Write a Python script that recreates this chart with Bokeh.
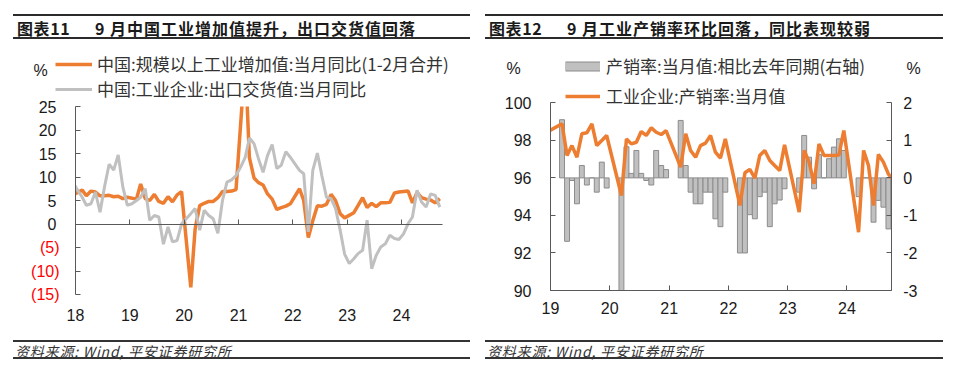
import pandas as pd
from bokeh.plotting import figure
from bokeh.models import (Range1d, LinearAxis, DatetimeAxis, FixedTicker, DatetimeTickFormatter,
                          Legend, LegendItem, Label, Div, ColumnDataSource, BoxAnnotation)
from bokeh.layouts import row, column
from bokeh.embed import file_html
from bokeh.resources import INLINE

# ---------------- data: left chart ----------------
# industrial value added yoy (%), Jan-Feb combined (reported as Feb)
iva_months = ["2017-12"] + [f"{y}-{m:02d}" for y in range(2018, 2025) for m in range(2, 13)
                            if not (y == 2024 and m > 9)]
iva_values = [6.2,
              7.2, 6.0, 7.0, 6.8, 6.0, 6.0, 6.1, 5.8, 5.9, 5.4, 5.7,
              5.3, 8.5, 5.4, 5.0, 6.3, 4.8, 4.4, 5.8, 4.7, 6.2, 6.9,
              -13.5, -1.1, 3.9, 4.4, 4.8, 4.8, 5.6, 6.9, 6.9, 7.0, 7.3,
              35.1, 14.1, 9.8, 8.8, 8.3, 6.4, 5.3, 3.1, 3.5, 3.8, 4.3,
              7.5, 5.0, -2.9, 0.7, 3.9, 3.8, 4.2, 6.3, 5.0, 2.2, 1.3,
              2.4, 3.9, 5.6, 3.5, 4.4, 3.7, 4.5, 4.5, 4.6, 6.6, 6.8,
              7.0, 4.5, 6.7, 5.6, 5.3, 5.1, 4.5, 5.4]
# export delivery value yoy (%)
exp_months = [str(p) for p in pd.period_range("2017-12", "2024-09", freq="M")]
exp_values = [8.9, 7.2, 5.7, 4.0, 4.3, 6.8, 2.5, 7.9, 12.7, 11.5, 14.7, 7.9,
              4.0, 4.3, 5.0, 5.7, 7.5, 0.8, 1.8, 1.5, -4.3, -0.6, -3.8, -3.5,
              0.0, 1.1, 2.2, 3.3, -1.3, 2.9, 1.8, 1.1, -2.0, 5.0, 8.9, 9.4,
              10.3, 12.1, 14.2, 18.3, 17.1, 13.9, 11.0, 14.6, 16.9, 11.8, 12.5, 15.4,
              14.2, 12.8, 11.4, 10.7, -1.7, 11.4, 15.1, 10.3, 5.7, 5.4, 3.3, -1.3,
              -6.4, -8.4, -7.4, -6.3, -5.6, 0.8, -9.5, -6.7, -4.9, -4.2, -2.4, -3.1,
              -3.3, -2.1, 0.1, 1.5, 7.2, 4.7, 3.6, 6.4, 6.1, 3.6]
left_years = [2018, 2019, 2020, 2021, 2022, 2023, 2024]
left_pos_ticks = [0, 5, 10, 15, 20, 25]
left_neg_labels = {-5: "(5)", -10: "(10)", -15: "(15)"}
left_x_span = ("2018-01-01", "2024-10-03")
left_y_span = (-15, 25)

# ---------------- data: right chart ----------------
ps_months = (["2018-11"]
             + [f"{y}-{m:02d}" for y in range(2019, 2024) for m in range(2, 12)]
             + [f"2024-{m:02d}" for m in range(2, 10)])
ps_rate = [98.45,
           98.88, 97.19, 97.72, 97.10, 98.35, 98.40, 98.88, 97.72, 97.99, 98.26,
           95.06, 98.08, 97.81, 97.90, 98.47, 98.26, 98.67, 98.43, 98.31, 98.52,
           96.57, 98.35, 97.46, 97.10, 97.72, 97.85, 98.26, 97.37, 97.05, 98.08,
           94.53, 96.27, 96.45, 95.98, 97.19, 97.46, 96.93, 96.66, 96.39, 97.76,
           94.17, 97.46, 96.84, 95.68, 97.81, 97.19, 97.19, 97.19, 97.22, 98.52,
           93.11, 97.46, 96.66, 94.53, 97.25, 96.84, 96.20, 95.90]
ps_yoy = [0.0,
          1.55, -1.69, -0.07, -0.69, 0.33, -0.19, 0.0, -0.38, 0.42, -0.27,
          -3.5, 0.83, 0.12, 0.73, 0.12, -0.07, -0.19, 0.73, 0.33, 0.22,
          1.53, 0.33, -0.38, -0.69, -0.69, -0.38, -0.38, -1.09, -1.30, -0.38,
          -2.0, -2.0, -0.98, -1.09, -0.5, -0.38, -1.3, -0.69, -0.59, -0.29,
          -0.38, 1.13, 0.55, -0.29, 0.62, 0.0, 0.51, 0.82, 1.04, 0.73,
          -0.5, 0.0, 0.0, -1.18, -0.6, -0.78, -1.36, -1.0]
right_years = [2019, 2020, 2021, 2022, 2023, 2024]
right_left_ticks = [90, 92, 94, 96, 98, 100]
right_right_ticks = [-3, -2, -1, 0, 1, 2]
right_x_span = ("2019-01-01", "2024-09-30")

ORANGE = "#ed7d31"
GRAY = "#c0c0c0"
BAR_EDGE = "#8c8c8c"
AXIS = "#595959"
TXT = "#1a1a1a"
NUMFONT = "Liberation Sans"
CJK = "Noto Sans CJK SC"


def ms(s):
    return pd.Timestamp(s).value / 1e6


def mid_month(months):
    return pd.PeriodIndex(months, freq="M").to_timestamp() + pd.Timedelta(days=14)


def after_month(months):
    return (pd.PeriodIndex(months, freq="M") + 1).to_timestamp() + pd.Timedelta(days=12)


def year_ticks(years):
    return [ms(f"{y}-01-01") for y in years]


def yy_formatter():
    f = "%y"
    return DatetimeTickFormatter(microseconds=f, milliseconds=f, seconds=f, minsec=f, minutes=f,
                                 hourmin=f, hours=f, days=f, months=f, years=f)


def style_axis(ax, line=True, ticks=True):
    ax.major_label_text_font = NUMFONT
    ax.major_label_text_font_size = "16px"
    ax.major_label_text_color = TXT
    ax.axis_line_color = AXIS if line else None
    ax.major_tick_line_color = AXIS if ticks else None
    ax.minor_tick_line_color = AXIS if ticks else None
    ax.major_tick_in = 5
    ax.major_tick_out = 0
    ax.minor_tick_in = 5
    ax.minor_tick_out = 0


class Frame:
    """maps the plot area (pixels inside a figure) to extended data ranges"""

    def __init__(self, W, H, px_l, px_r, px_t, px_b, x0, x1, y0, y1):
        self.W, self.H = W, H
        self.kx = (px_r - px_l) / (x1 - x0)
        self.ky = (px_b - px_t) / (y1 - y0)
        self.xs = x0 - px_l / self.kx
        self.xe = x1 + (W - px_r) / self.kx
        self.ye = y1 + px_t / self.ky
        self.ys = y0 - (H - px_b) / self.ky

    def yrange_for(self, y0, y1, px_t, px_b):
        k = (px_b - px_t) / (y1 - y0)
        return Range1d(y0 - (self.H - px_b) / k, y1 + px_t / k)

    def x(self, px):
        return self.xs + px / self.kx

    def y(self, py):
        return self.ye - py / self.ky


def mask(p, **kw):
    b = BoxAnnotation(fill_color="white", fill_alpha=1, line_alpha=0, level="glyph", **kw)
    p.renderers.append(b)


def new_fig(fr):
    p = figure(width=fr.W, height=fr.H, output_backend="svg", toolbar_location=None,
               x_axis_type=None, y_axis_type=None,
               x_range=Range1d(fr.xs, fr.xe), y_range=Range1d(fr.ys, fr.ye),
               min_border_left=0, min_border_right=0, min_border_top=0, min_border_bottom=0)
    p.outline_line_color = None
    p.background_fill_color = "white"
    return p


def legend(items, loc, glyph_w, standoff, spacing):
    return Legend(items=items, location=loc, orientation="vertical", glyph_width=glyph_w,
                  glyph_height=22, label_height=22, label_standoff=standoff, spacing=spacing,
                  padding=0, margin=0, border_line_color=None, background_fill_alpha=0,
                  label_text_font=CJK, label_text_font_size="17px", label_text_color="#333333")


# ---------------- left figure ----------------
LX0, LX1 = ms(left_x_span[0]), ms(left_x_span[1])
frL = Frame(480, 280, 75, 442, 56, 244, LX0, LX1, left_y_span[0], left_y_span[1])
pL = new_fig(frL)

src_iva = ColumnDataSource(dict(x=mid_month(iva_months), y=iva_values))
src_exp = ColumnDataSource(dict(x=mid_month(exp_months), y=exp_values))
r_iva = pL.line("x", "y", source=src_iva, line_color=ORANGE, line_width=3.5)
r_exp = pL.line("x", "y", source=src_exp, line_color=GRAY, line_width=3)
# keep lines inside the plot area
mask(pL, bottom=left_y_span[1], left=LX0)
mask(pL, right=LX0)
mask(pL, left=LX1)

yA = LinearAxis(ticker=FixedTicker(ticks=left_pos_ticks, minor_ticks=list(left_neg_labels.keys())),
                fixed_location=LX0, bounds=left_y_span)
style_axis(yA)
yA.major_label_standoff = 19
pL.add_layout(yA, "left")
yB = LinearAxis(ticker=FixedTicker(ticks=list(left_neg_labels.keys())),
                major_label_overrides=left_neg_labels, fixed_location=LX0)
style_axis(yB, line=False, ticks=False)
yB.major_label_text_color = "#ff0000"
yB.major_label_standoff = 16
pL.add_layout(yB, "left")

x0 = DatetimeAxis(ticker=FixedTicker(ticks=[], minor_ticks=year_ticks(left_years)),
                  fixed_location=0, bounds=(LX0, LX1), formatter=yy_formatter())
style_axis(x0)
pL.add_layout(x0, "below")
xlab = DatetimeAxis(ticker=FixedTicker(ticks=year_ticks(left_years)), formatter=yy_formatter(),
                    fixed_location=left_y_span[0])
style_axis(xlab, line=False, ticks=False)
xlab.major_label_standoff = 14
pL.add_layout(xlab, "below")

legL = legend([LegendItem(label="中国:规模以上工业增加值:当月同比(1-2月合并)", renderers=[r_iva]),
               LegendItem(label="中国:工业企业:出口交货值:当月同比", renderers=[r_exp])],
              (55, 229), 37, 5, 0)
pL.add_layout(legL)
pL.add_layout(Label(x=frL.x(40), y=frL.y(20), text="%", text_align="center", text_baseline="middle",
                    text_font=NUMFONT, text_font_size="16px", text_color=TXT))

# ---------------- right figure ----------------
RX0, RX1 = ms(right_x_span[0]), ms(right_x_span[1])
frR = Frame(472, 280, 70, 410.7, 52.3, 240, RX0, RX1, right_left_ticks[0], right_left_ticks[-1])
pR = new_fig(frR)
pR.extra_y_ranges = {"yoy": frR.yrange_for(right_right_ticks[0], right_right_ticks[-1], 52.3, 240)}

ps_x = after_month(ps_months)
src_ps = ColumnDataSource(dict(x=ps_x, rate=ps_rate, yoy=ps_yoy))
month_ms = 30.4 * 24 * 3600 * 1000
pR.vbar(x="x", top="yoy", bottom=0, width=month_ms, source=src_ps, y_range_name="yoy",
        fill_color=GRAY, line_color=BAR_EDGE, line_width=1)
r_rate = pR.line("x", "rate", source=src_ps, line_color=ORANGE, line_width=3.5)
# legend swatch for the bars (a single point draws nothing in the plot)
sw_src = ColumnDataSource(dict(x=ps_x[:1], y=ps_rate[:1]))
sw_dark = pR.line("x", "y", source=sw_src, line_color=BAR_EDGE, line_width=10, line_cap="butt")
sw_light = pR.line("x", "y", source=sw_src, line_color=GRAY, line_width=8, line_cap="butt")
mask(pR, right=RX0)
mask(pR, left=RX1)
mask(pR, top=right_left_ticks[0])

yR1 = LinearAxis(ticker=FixedTicker(ticks=right_left_ticks), fixed_location=RX0,
                 bounds=(right_left_ticks[0], right_left_ticks[-1]))
style_axis(yR1)
yR1.major_label_standoff = 19
pR.add_layout(yR1, "left")

yR2 = LinearAxis(y_range_name="yoy", ticker=FixedTicker(ticks=right_right_ticks), fixed_location=RX1,
                 bounds=(right_right_ticks[0], right_right_ticks[-1]),
                 major_label_overrides={v: str(v) for v in right_right_ticks})
style_axis(yR2)
yR2.major_label_standoff = 12
pR.add_layout(yR2, "right")

xR = DatetimeAxis(ticker=FixedTicker(ticks=year_ticks(right_years)), formatter=yy_formatter(),
                  fixed_location=right_left_ticks[0], bounds=(RX0, RX1))
style_axis(xR)
xR.major_label_standoff = 11
pR.add_layout(xR, "below")

legR = legend([LegendItem(label="产销率:当月值:相比去年同期(右轴)", renderers=[sw_dark, sw_light]),
               LegendItem(label="工业企业:产销率:当月值", renderers=[r_rate])],
              (85, 222), 35, 6, 5)
pR.add_layout(legR)
for px in (33, 433):
    pR.add_layout(Label(x=frR.x(px), y=frR.y(18), text="%", text_align="center", text_baseline="middle",
                        text_font=NUMFONT, text_font_size="16px", text_color=TXT))


# ---------------- title and source blocks ----------------
def title_div(num, text, left, rule_w, width):
    html = (f'<div style="margin:14px 0 0 {left}px; width:{rule_w}px; height:25px; line-height:25px;'
            f'border-top:2px solid #2b2b2b; border-bottom:2px solid #2b2b2b; white-space:nowrap;'
            f"font-family:'{CJK}'; font-weight:bold; font-size:16px; letter-spacing:1px; color:#1a1a1a;\">"
            f'<span style="display:inline-block; width:82px; padding-left:4px; letter-spacing:0.6px; box-sizing:border-box">{num}</span>'
            f'{text}</div>')
    return Div(text=html, width=width, height=50, margin=(0, 0, 0, 0))


def source_div(left, rule_w, width):
    html = (f'<div style="margin:10px 0 0 {left}px; width:{rule_w}px; height:19px; line-height:19px;'
            f'border-top:2px solid #333333; border-bottom:2px solid #333333; white-space:nowrap;'
            f"font-family:'{CJK}'; font-style:italic; font-size:14px; letter-spacing:0.8px; color:#333333;\">"
            f'<span style="padding-left:2px">资料来源: Wind, 平安证券研究所</span></div>')
    return Div(text=html, width=width, height=57, margin=(0, 0, 0, 0))


tL = title_div("图表11", "9 月中国工业增加值提升，出口交货值回落", 13, 457, 480)
tR = title_div("图表12", "9 月工业产销率环比回落，同比表现较弱", 5, 458, 472)
sL = source_div(13, 457, 480)
sR = source_div(5, 458, 472)

layout = column(row(tL, tR), row(pL, pR), row(sL, sR))
open("out.html", "w").write(file_html(layout, INLINE))
